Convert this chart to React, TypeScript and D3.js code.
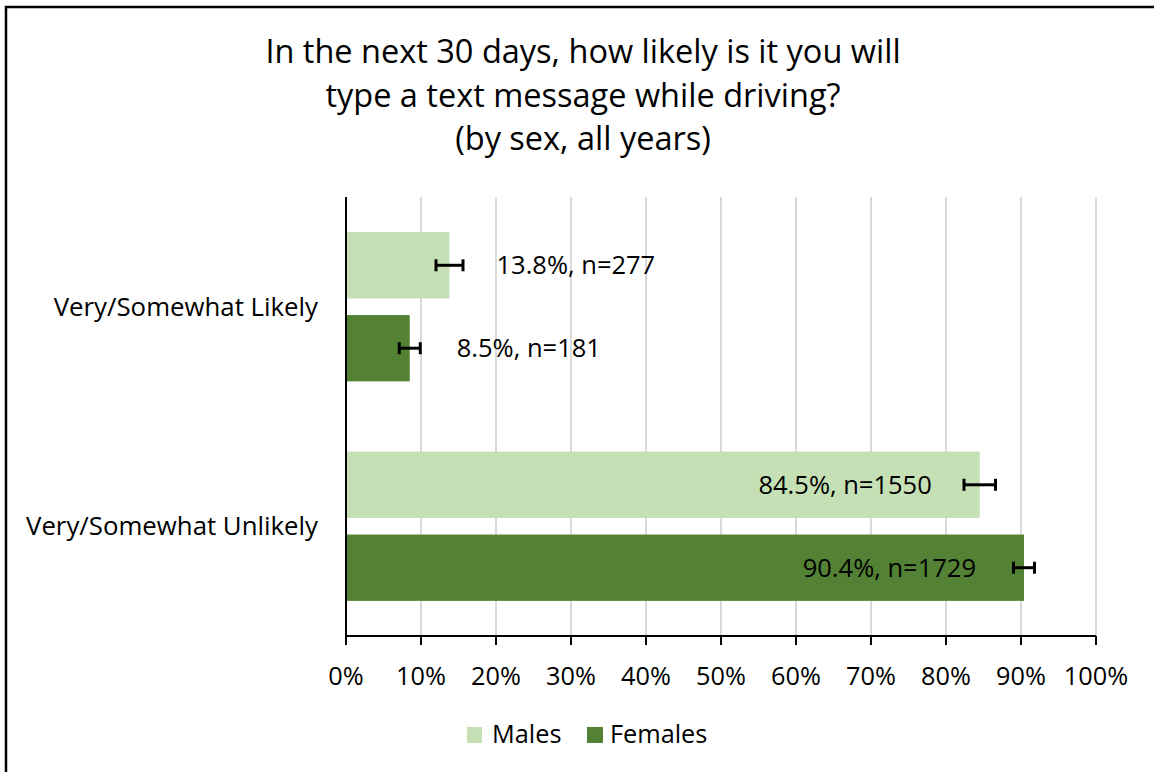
import React from "react";
import * as d3 from "d3";

const titleLines = [
  "In the next 30 days, how likely is it you will",
  "type a text message while driving?",
  "(by sex, all years)",
];
const categories = ["Very/Somewhat Likely", "Very/Somewhat Unlikely"];
const seriesNames = ["Males", "Females"];
const seriesColors = ["#c5e0b4", "#548235"];
const malesValues = [13.8, 84.5];
const femalesValues = [8.5, 90.4];
const malesN = [277, 1550];
const femalesN = [181, 1729];
const malesErr = [1.8, 2.1];
const femalesErr = [1.4, 1.4];
const xTicks = [0, 10, 20, 30, 40, 50, 60, 70, 80, 90, 100];

const FONT = "'Open Sans', sans-serif";

export default function App() {
  const W = 1154, H = 772;
  const left = 346, right = 1096, top = 197, bottom = 636;
  const x = d3.scaleLinear().domain([0, 100]).range([left, right]);
  const y0 = d3.scaleBand<string>().domain(categories).range([top, bottom]).paddingInner(0.32).paddingOuter(0.16);
  const y1 = d3.scaleBand<string>().domain(seriesNames).range([0, y0.bandwidth()]).paddingInner(0.2);

  const series = [
    { name: "Males", values: malesValues, n: malesN, err: malesErr, color: seriesColors[0] },
    { name: "Females", values: femalesValues, n: femalesN, err: femalesErr, color: seriesColors[1] },
  ];

  return (
    <svg width={W} height={H} style={{ position: "absolute", left: 0, top: 0, background: "#fff" }} fontFamily={FONT}>
      <rect x={6} y={7} width={W + 10} height={H + 10} fill="#fff" stroke="#000" strokeWidth={2.5} />
      {titleLines.map((t, i) => (
        <text key={i} x={583} y={63 + i * 43.5} textAnchor="middle" fontSize={32.5} fill="#000">{t}</text>
      ))}
      {xTicks.map((t) => (
        <line key={"g" + t} x1={x(t)} x2={x(t)} y1={top} y2={bottom} stroke="#d9d9d9" strokeWidth={2} />
      ))}
      {series.map((s) =>
        categories.map((c, i) => {
          const by = (y0(c) as number) + (y1(s.name) as number);
          const bh = y1.bandwidth();
          const v = s.values[i];
          const cy = by + bh / 2;
          const inside = v > 50;
          const label = `${v.toFixed(1)}%, n=${s.n[i]}`;
          return (
            <g key={s.name + c}>
              <rect x={x(0)} y={by} width={x(v) - x(0)} height={bh} fill={s.color} />
              <line x1={x(v - s.err[i])} x2={x(v + s.err[i])} y1={cy} y2={cy} stroke="#000" strokeWidth={3} />
              <line x1={x(v - s.err[i])} x2={x(v - s.err[i])} y1={cy - 6} y2={cy + 6} stroke="#000" strokeWidth={3} />
              <line x1={x(v + s.err[i])} x2={x(v + s.err[i])} y1={cy - 6} y2={cy + 6} stroke="#000" strokeWidth={3} />
              <text
                x={inside ? x(v) - 48 : x(v) + 47}
                y={cy}
                dy="0.35em"
                textAnchor={inside ? "end" : "start"}
                fontSize={25.5}
                fill="#000"
              >{label}</text>
            </g>
          );
        })
      )}
      <line x1={left} x2={left} y1={top} y2={bottom} stroke="#000" strokeWidth={2} />
      <line x1={left} x2={right} y1={bottom} y2={bottom} stroke="#000" strokeWidth={2} />
      {xTicks.map((t) => (
        <g key={"t" + t}>
          <line x1={x(t)} x2={x(t)} y1={bottom} y2={bottom + 9} stroke="#000" strokeWidth={2} />
          <text x={x(t)} y={676} dy="0.35em" textAnchor="middle" fontSize={25.3} fill="#000">{t}%</text>
        </g>
      ))}
      {categories.map((c) => (
        <text key={c} x={318} y={(y0(c) as number) + y0.bandwidth() / 2} dy="0.35em" textAnchor="end" fontSize={25.8} fill="#000">{c}</text>
      ))}
      <g>
        <rect x={467} y={727} width={15} height={16} fill={seriesColors[0]} />
        <text x={492} y={743} fontSize={25.3} fill="#000">{seriesNames[0]}</text>
        <rect x={587} y={727} width={16} height={16} fill={seriesColors[1]} />
        <text x={610} y={743} fontSize={25.3} fill="#000">{seriesNames[1]}</text>
      </g>
    </svg>
  );
}
